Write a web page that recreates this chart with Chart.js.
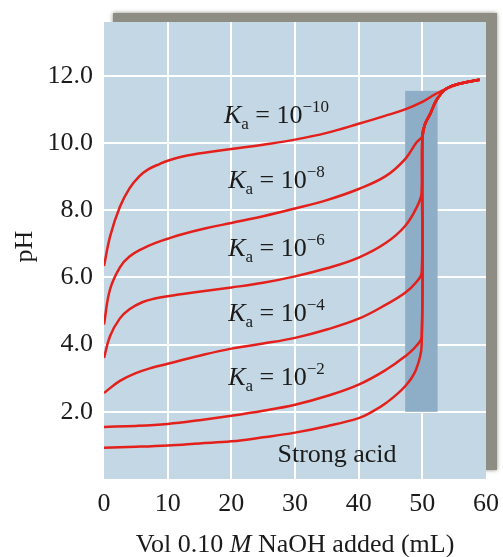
<!DOCTYPE html>
<html lang="en">
  <head>
    <meta charset="UTF-8" />
    <title>Titration curves</title>
    <style>
      html, body { margin: 0; padding: 0; background: #fff; }
      #wrap { width: 503px; height: 557px; }
    </style>
  </head>
  <body>
    <div id="wrap"><canvas id="chart" width="503" height="557"></canvas></div>
    <script src="https://cdn.jsdelivr.net/npm/chart.js@4/dist/chart.umd.min.js"></script>
    <script>
      // values (vol in mL, pH)
      const tailVol = [50, 50.4, 51.2, 52.3, 53.8, 56, 59];
      const tailPH = [10.2, 10.55, 10.85, 11.3, 11.62, 11.77, 11.88];

      const strongVol = [0, 5, 10, 15, 20, 25, 30, 35, 40, 42, 44.3, 47.3, 49, 49.9];
      const strongPH = [0.93, 0.96, 1.0, 1.06, 1.12, 1.24, 1.38, 1.57, 1.81, 1.99, 2.26, 2.76, 3.25, 4.0];

      const ka2Vol = [0, 5, 10, 15, 20, 25, 30, 35, 40, 44.3, 47.3, 49, 49.9];
      const ka2PH = [1.55, 1.58, 1.64, 1.75, 1.88, 2.03, 2.21, 2.47, 2.81, 3.25, 3.65, 3.95, 4.25];

      const ka4Vol = [0, 2.5, 5, 7.5, 10, 15, 20, 25, 30, 35, 40, 44.3, 47.3, 49, 49.9];
      const ka4PH = [2.56, 2.92, 3.15, 3.31, 3.43, 3.67, 3.88, 4.03, 4.2, 4.45, 4.77, 5.19, 5.54, 5.85, 6.14];

      const ka6Vol = [0, 0.94, 2.5, 4, 6, 8, 10, 14, 20, 25, 30, 35, 40, 44.3, 47.3, 49.1, 49.9];
      const ka6PH = [3.6, 4.25, 4.78, 5.05, 5.26, 5.37, 5.44, 5.55, 5.7, 5.84, 6.03, 6.27, 6.59, 7.03, 7.53, 8.08, 8.53];

      const ka8Vol = [0, 0.94, 2.5, 4, 6, 8, 10, 12, 16, 20, 25, 30, 35, 40, 44.3, 47.3, 49.1];
      const ka8PH = [4.6, 5.64, 6.3, 6.62, 6.85, 7.02, 7.15, 7.27, 7.46, 7.62, 7.82, 8.05, 8.3, 8.63, 9.02, 9.52, 10.02];

      const ka10Vol = [0, 1, 2.5, 4, 5.5, 7, 8.8, 10, 12, 14, 20, 25, 30, 35, 40, 44, 47.3, 50, 52];
      const ka10PH = [6.34, 7.25, 8.1, 8.65, 9.0, 9.22, 9.38, 9.47, 9.58, 9.66, 9.82, 9.95, 10.1, 10.3, 10.57, 10.8, 11.0, 11.22, 11.45];

      const xTicks = [0, 10, 20, 30, 40, 50, 60];
      const yTicks = [2, 4, 6, 8, 10, 12];

      // shaded equivalence region [vol, vol] x [pH, pH]
      const shadeVol = [47.3, 52.4];
      const shadePH = [2.0, 11.55];

      // curve labels: exponent, vol (centre), pH (baseline)
      const labelExp = ["\u221210", "\u22128", "\u22126", "\u22124", "\u22122"];
      const labelVol = [27.1, 27.1, 27.1, 27.1, 27.1];
      const labelPH = [10.6, 8.66, 6.63, 4.69, 2.81];

      const SERIF = '"Liberation Serif", "DejaVu Serif", serif';
      const RED = "#e3201b";

      function pts(v, p) {
        return v.map((x, i) => ({ x: x, y: p[i] }));
      }

      const curves = [
        pts(strongVol.concat(tailVol), strongPH.concat(tailPH)),
        pts(ka2Vol.concat(tailVol), ka2PH.concat(tailPH)),
        pts(ka4Vol.concat(tailVol), ka4PH.concat(tailPH)),
        pts(ka6Vol.concat(tailVol), ka6PH.concat(tailPH)),
        pts(ka8Vol.concat(tailVol), ka8PH.concat(tailPH)),
        pts(ka10Vol.concat(tailVol.slice(4)), ka10PH.concat(tailPH.slice(4))),
      ];

      const panel = {
        id: "panel",
        beforeDraw(chart) {
          const { ctx, chartArea: a } = chart;
          ctx.save();
          // drop shadow behind the plot panel
          ctx.shadowColor = "rgba(60,60,50,0.6)";
          ctx.shadowBlur = 4;
          ctx.fillStyle = "#8e8d84";
          ctx.fillRect(a.left + 9, a.top - 9, a.right - a.left + 2, a.bottom - a.top);
          ctx.restore();
          ctx.fillStyle = "#c4d7e4";
          ctx.fillRect(a.left, a.top, a.right - a.left, a.bottom - a.top);
        },
        beforeDatasetsDraw(chart) {
          const { ctx, scales } = chart;
          const x0 = scales.x.getPixelForValue(shadeVol[0]);
          const x1 = scales.x.getPixelForValue(shadeVol[1]);
          const y0 = scales.y.getPixelForValue(shadePH[1]);
          const y1 = scales.y.getPixelForValue(shadePH[0]);
          ctx.fillStyle = "#8eaec7";
          ctx.fillRect(x0, y0, x1 - x0, y1 - y0);
        },
        afterDatasetsDraw(chart) {
          const { ctx, scales, chartArea: a } = chart;
          ctx.save();
          ctx.fillStyle = "#1b1b1b";
          ctx.textBaseline = "alphabetic";
          labelExp.forEach((e, i) => {
            const parts = [
              { t: "K", f: "italic 26px " + SERIF, dy: 0 },
              { t: "a", f: "17px " + SERIF, dy: 6 },
              { t: " = 10", f: "26px " + SERIF, dy: 0 },
              { t: e, f: "17px " + SERIF, dy: -11 },
            ];
            let w = 0;
            parts.forEach((p) => { ctx.font = p.f; p.w = ctx.measureText(p.t).width; w += p.w; });
            let x = scales.x.getPixelForValue(labelVol[i]) - w / 2;
            const y = scales.y.getPixelForValue(labelPH[i]);
            parts.forEach((p) => {
              ctx.font = p.f;
              ctx.fillText(p.t, x, y + p.dy);
              x += p.w;
            });
          });
          ctx.font = "26px " + SERIF;
          ctx.textAlign = "center";
          ctx.fillText("Strong acid", scales.x.getPixelForValue(36.6), scales.y.getPixelForValue(0.5));

          // x axis title with italic M
          const xp = [
            { t: "Vol 0.10 ", f: "26px " + SERIF },
            { t: "M", f: "italic 26px " + SERIF },
            { t: " NaOH added (mL)", f: "26px " + SERIF },
          ];
          ctx.textAlign = "left";
          let tw = 0;
          xp.forEach((p) => { ctx.font = p.f; p.w = ctx.measureText(p.t).width; tw += p.w; });
          let tx = (a.left + a.right) / 2 - tw / 2;
          xp.forEach((p) => { ctx.font = p.f; ctx.fillText(p.t, tx, 552); tx += p.w; });

          // y axis title
          ctx.translate(25, (a.top + a.bottom) / 2 - 4);
          ctx.rotate(-Math.PI / 2);
          ctx.textAlign = "center";
          ctx.textBaseline = "middle";
          ctx.font = "26px " + SERIF;
          ctx.fillText("pH", 0, 0);
          ctx.restore();
        },
      };

      const edge = (v, lo, hi) => (v === lo || v === hi ? "rgba(0,0,0,0)" : "#ffffff");

      new Chart(document.getElementById("chart"), {
        type: "line",
        data: {
          datasets: curves.map((c) => ({
            data: c,
            borderColor: RED,
            borderWidth: 2.5,
            pointRadius: 0,
            tension: 0.4,
            fill: false,
          })),
        },
        options: {
          responsive: false,
          animation: false,
          parsing: false,
          layout: { padding: { top: 22, right: 17, left: 0, bottom: 0 } },
          plugins: { legend: { display: false }, tooltip: { enabled: false } },
          scales: {
            x: {
              type: "linear",
              min: 0,
              max: 60,
              afterFit: (s) => { s.height = 78; s.paddingLeft = 0; s.paddingRight = 0; },
              afterBuildTicks: (s) => { s.ticks = xTicks.map((v) => ({ value: v })); },
              border: { display: false },
              grid: { color: (c) => edge(c.tick.value, 0, 60), lineWidth: 2, drawTicks: false },
              ticks: { padding: 10, color: "#1b1b1b", font: { family: SERIF, size: 26 } },
            },
            y: {
              type: "linear",
              min: 0,
              max: 13.6,
              afterFit: (s) => { s.width = 104; s.paddingTop = 0; s.paddingBottom = 0; },
              afterBuildTicks: (s) => { s.ticks = yTicks.map((v) => ({ value: v })); },
              border: { display: false },
              grid: { color: (c) => edge(c.tick.value, 0, 13.6), lineWidth: 2, drawTicks: false },
              ticks: {
                padding: 11,
                color: "#1b1b1b",
                font: { family: SERIF, size: 26 },
                callback: (v) => v.toFixed(1),
              },
            },
          },
        },
        plugins: [panel],
      });
    </script>
  </body>
</html>
